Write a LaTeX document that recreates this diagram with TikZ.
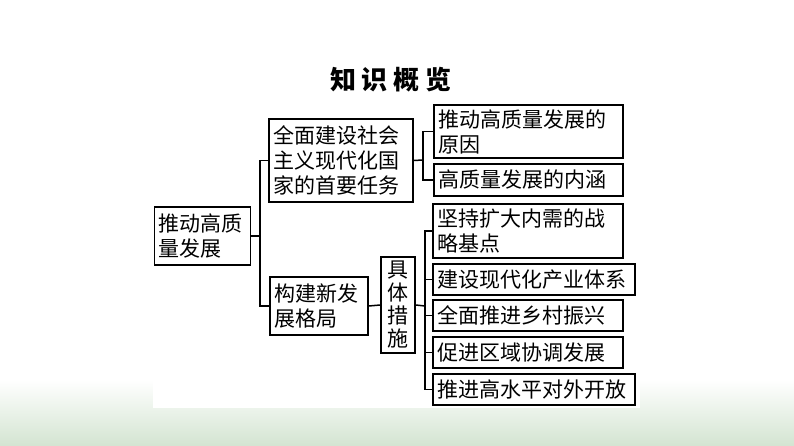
\documentclass[tikz,border=0pt]{standalone}
\usepackage{fontspec}
\newfontfamily\cjk{Noto Sans CJK SC}
\definecolor{bggreen}{HTML}{D3E4D1}
\tikzset{
  box/.style={draw=black, line width=1.5pt, fill=white, inner sep=3pt, align=left,
    font=\cjk\fontsize{21}{25}\selectfont, anchor=center},
  conn/.style={line width=1.5pt},
}
\begin{document}
\begin{tikzpicture}[x=1pt,y=-1pt]
\useasboundingbox (0,0) rectangle (794,446);
\fill[white] (0,0) rectangle (794,446);
\shade[top color=white, bottom color=bggreen] (0,380) rectangle (794,446);
\fill[white] (153,60) rectangle (640,408);

\node[font=\cjk\bfseries\fontsize{26}{30}\selectfont] (title) at (391,80) {知\hspace{6pt}识\hspace{6pt}概\hspace{6pt}览};

\node[box, minimum width=96pt, minimum height=58pt, text width=88pt] (A) at (202.5,236) {推动高质\\量发展};
\node[box, minimum width=144pt, minimum height=83pt, text width=136pt] (B) at (341,160.5) {全面建设社会\\主义现代化国\\家的首要任务};
\node[box, minimum width=98pt, minimum height=58pt, text width=90pt] (C) at (319,306) {构建新发\\展格局};
\node[box, minimum width=34pt, minimum height=96pt, text width=22pt, inner sep=2pt,
  font=\cjk\fontsize{21}{23}\selectfont] (D) at (398,305) {具\\体\\措\\施};

\node[box, minimum width=189pt, minimum height=53pt, text width=181pt] (R1) at (528.5,131.5) {推动高质量发展的\\原因};
\node[box, minimum width=189pt, minimum height=32pt, text width=181pt] (R2) at (528.5,180) {高质量发展的内涵};
\node[box, minimum width=190pt, minimum height=54pt, text width=182pt] (R3) at (528,231) {坚持扩大内需的战\\略基点};
\node[box, minimum width=202pt, minimum height=31pt, text width=194pt] (R4) at (534,279.5) {建设现代化产业体系};
\node[box, minimum width=190pt, minimum height=31pt, text width=182pt] (R5) at (528,315.5) {全面推进乡村振兴};
\node[box, minimum width=190pt, minimum height=31pt, text width=182pt] (R6) at (528,352.5) {促进区域协调发展};
\node[box, minimum width=202pt, minimum height=31pt, text width=194pt] (R7) at (534,389.5) {推进高水平对外开放};

\coordinate (busA) at (260,236);
\coordinate (busB) at (423,160);
\coordinate (busD) at (425,306);

\draw[conn] (A.east) -- (busA);
\draw[conn] (B.west) -| (busA) |- (C.west);

\draw[conn] (B.east) -- (busB);
\draw[conn] (R1.west) -| (busB) |- (R2.west);

\draw[conn] (C.east) -- (D.west);
\draw[conn] (D.east) -- (busD);
\draw[conn] (R3.west) -| (busD) |- (R7.west);
\draw[conn] (busD |- R4.west) -- (R4.west);
\draw[conn] (busD |- R5.west) -- (R5.west);
\draw[conn] (busD |- R6.west) -- (R6.west);
\end{tikzpicture}
\end{document}
